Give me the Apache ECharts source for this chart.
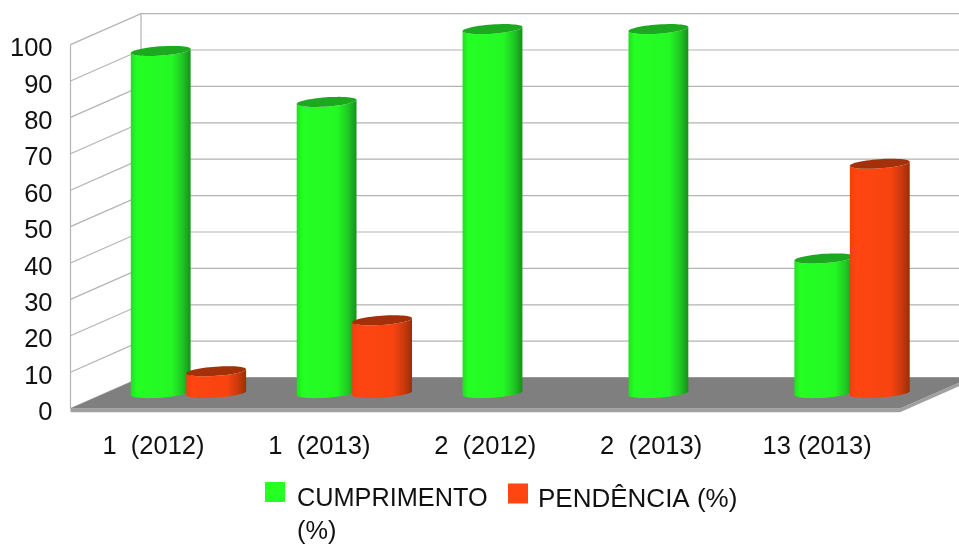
<!DOCTYPE html>
<html>
<head>
<meta charset="utf-8">
<style>html,body{margin:0;padding:0;background:#fff}#c{width:959px;height:544px}</style>
<script src="https://cdn.jsdelivr.net/npm/echarts@6/dist/echarts.min.js"></script>
</head>
<body>
<div id="c"></div>
<script>
var categories = ['1  (2012)', '1  (2013)', '2  (2012)', '2  (2013)', '13 (2013)'];
var cumprimento = [94, 80, 100, 100, 37];
var pendencia = [6, 20, 0, 0, 63];
var yTicks = [0, 10, 20, 30, 40, 50, 60, 70, 80, 90, 100];
var nameA = 'CUMPRIMENTO (%)';
var nameB = 'PENDÊNCIA (%)';

var FONT = '"Liberation Sans", Arial, sans-serif';
var DEPTH_X = 70.5, DEPTH_Y = -31;
var GREEN = '#24ff24', ORANGE = '#ff4511';

function tiltedArc(cx, cy, a, b, from, to, steps) {
  var th = -4 * Math.PI / 180, pts = [];
  for (var i = 0; i <= steps; i++) {
    var t = from + (to - from) * i / steps;
    var x = a * Math.cos(t), y = b * Math.sin(t);
    pts.push([cx + x * Math.cos(th) - y * Math.sin(th), cy + x * Math.sin(th) + y * Math.cos(th)]);
  }
  return pts;
}

function cylinder(offset, stops, capColor) {
  return function (params, api) {
    var v = api.value(1);
    if (!v) return null;
    var base = api.coord([api.value(0), 0]);
    var top = api.coord([api.value(0), v]);
    var cx = base[0] + DEPTH_X / 2 + offset;
    var dy = DEPTH_Y / 2;
    var a = 30, b = 4.6;
    var lower = tiltedArc(cx, base[1] + dy, a, b, Math.PI, 0, 28);
    var upper = tiltedArc(cx, top[1] + dy, a, b, 0, Math.PI, 28);
    var grad = new echarts.graphic.LinearGradient(0, 0, 1, 0, stops);
    return {
      type: 'group',
      children: [
        { type: 'polygon', shape: { points: lower.concat(upper) }, style: { fill: grad } },
        { type: 'polygon', shape: { points: tiltedArc(cx, top[1] + dy, a, b, 0, 2 * Math.PI, 56) }, style: { fill: capColor } }
      ]
    };
  };
}

function gridRender(params, api) {
  var y = api.coord([0, api.value(0)])[1];
  var cs = params.coordSys;
  var l = cs.x, bx = l + DEPTH_X, by = y + DEPTH_Y, r = cs.x + cs.width + DEPTH_X;
  return { type: 'polyline', shape: { points: [[l, y], [bx, by], [r, by]] },
    style: { stroke: '#b3b3b3', lineWidth: 1.2, fill: null } };
}

function wallRender(params, api) {
  var cs = params.coordSys, t = api.coord([0, 100])[1], z = api.coord([0, 0])[1];
  var ls = { stroke: '#b3b3b3', lineWidth: 1.2 };
  return { type: 'group', children: [
    { type: 'line', shape: { x1: cs.x, y1: t, x2: cs.x, y2: z }, style: ls },
    { type: 'line', shape: { x1: cs.x + DEPTH_X, y1: t + DEPTH_Y, x2: cs.x + DEPTH_X, y2: z + DEPTH_Y }, style: ls }
  ]};
}

function floorRender(params, api) {
  var cs = params.coordSys, z = api.coord([0, 0])[1], l = cs.x, r = cs.x + cs.width, h = 3.6;
  return { type: 'group', children: [
    { type: 'polygon', shape: { points: [[l, z + h], [r, z + h], [r + DEPTH_X, z + DEPTH_Y + h], [r + DEPTH_X, z + DEPTH_Y], [r, z], [l, z]] }, style: { fill: '#a0a0a0' } },
    { type: 'polygon', shape: { points: [[l, z], [l + DEPTH_X, z + DEPTH_Y], [r + DEPTH_X, z + DEPTH_Y], [r, z]] }, style: { fill: '#7f7f7f' } }
  ]};
}

var chart = echarts.init(document.getElementById('c'), null, { renderer: 'canvas' });
chart.setOption({
  animation: false,
  backgroundColor: '#fff',
  grid: { left: 70.5, right: 59, top: 44.6, bottom: 135.4 },
  xAxis: {
    type: 'category', data: categories,
    axisLine: { show: false }, axisTick: { show: false },
    axisLabel: { interval: 0, margin: 25, fontSize: 25.5, fontFamily: FONT, color: '#111' }
  },
  yAxis: {
    type: 'value', min: 0, max: 100, interval: 10,
    axisLine: { show: false }, axisTick: { show: false }, splitLine: { show: false },
    axisLabel: { margin: 18, fontSize: 25.5, fontFamily: FONT, color: '#111', verticalAlign: 'top', lineHeight: 9 }
  },
  legend: [
    { left: 265, top: 458.5, orient: 'horizontal', data: [{ name: nameA, icon: 'rect' }], itemWidth: 20, itemHeight: 20, padding: 0,
      formatter: function () { return '{s|\u00a0}\n{b|CUMPRIMENTO}\n{b|(%)}'; },
      textStyle: { fontFamily: FONT, rich: { s: { fontSize: 1, lineHeight: 47 }, b: { fontSize: 25.3, fontFamily: FONT, color: '#111', lineHeight: 33, padding: [0, 0, 0, 7] } } } },
    { left: 508, top: 476.5, orient: 'horizontal', data: [{ name: nameB, icon: 'rect' }], itemWidth: 20, itemHeight: 20, padding: 0,
      formatter: function (n) { return '{s|\u00a0}\n{b|' + n + '}'; },
      textStyle: { fontFamily: FONT, rich: { s: { fontSize: 1, lineHeight: 12 }, b: { fontSize: 26, fontFamily: FONT, color: '#111', lineHeight: 33, padding: [0, 0, 0, 5] } } } }
  ],
  series: [
    { type: 'custom', name: 'grid', silent: true, clip: false, z: 1, renderItem: gridRender, data: yTicks.map(function (t) { return [t]; }), encode: { y: 0 } },
    { type: 'custom', name: 'walls', silent: true, clip: false, z: 1, renderItem: wallRender, data: [[0]] },
    { type: 'custom', name: 'floor', silent: true, clip: false, z: 2, renderItem: floorRender, data: [[0]] },
    { type: 'custom', name: nameA, clip: false, z: 3, itemStyle: { color: GREEN },
      renderItem: cylinder(-28, [{ offset: 0, color: '#20e020' }, { offset: 0.1, color: '#24ff24' }, { offset: 0.68, color: '#24f824' }, { offset: 0.86, color: '#1fc823' }, { offset: 1, color: '#16901b' }], '#1ca81f'),
      data: cumprimento.map(function (v, i) { return [i, v]; }), encode: { x: 0, y: 1 } },
    { type: 'custom', name: nameB, clip: false, z: 4, itemStyle: { color: ORANGE },
      renderItem: cylinder(27.5, [{ offset: 0, color: '#f03f10' }, { offset: 0.1, color: '#ff4511' }, { offset: 0.68, color: '#f84410' }, { offset: 0.86, color: '#cc3a0e' }, { offset: 1, color: '#9a2e08' }], '#a33008'),
      data: pendencia.map(function (v, i) { return [i, v]; }), encode: { x: 0, y: 1 } }
  ]
});
</script>
</body>
</html>
